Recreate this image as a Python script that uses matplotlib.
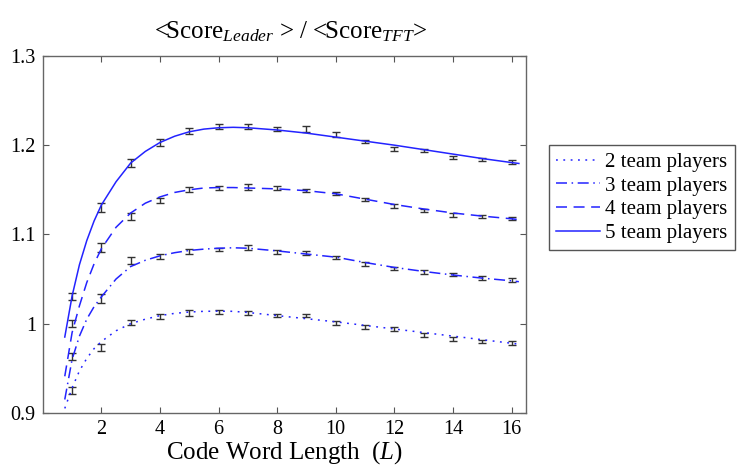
import matplotlib
matplotlib.use("Agg")
import matplotlib.pyplot as plt

# measured points (code word length L = 1..16) with error bars
L_points = [1, 2, 3, 4, 5, 6, 7, 8, 9, 10, 11, 12, 13, 14, 15, 16]

mean_2 = [0.925, 0.973, 1.001, 1.008, 1.012, 1.013, 1.012, 1.009, 1.009, 1.001,
          0.996, 0.994, 0.987, 0.983, 0.980, 0.978]
mean_3 = [0.963, 1.028, 1.071, 1.075, 1.081, 1.083, 1.085, 1.080, 1.079, 1.074,
          1.067, 1.062, 1.058, 1.055, 1.051, 1.049]
mean_4 = [1.000, 1.085, 1.120, 1.138, 1.150, 1.152, 1.153, 1.152, 1.149, 1.146,
          1.139, 1.132, 1.127, 1.122, 1.120, 1.118]
mean_5 = [1.030, 1.130, 1.180, 1.203, 1.216, 1.221, 1.221, 1.218, 1.218, 1.212,
          1.204, 1.196, 1.194, 1.186, 1.184, 1.181]

err_2 = [0.004, 0.004, 0.003, 0.003, 0.003, 0.002, 0.002, 0.002, 0.002, 0.002,
         0.002, 0.002, 0.002, 0.002, 0.002, 0.002]
err_3 = [0.004, 0.005, 0.004, 0.003, 0.003, 0.002, 0.003, 0.002, 0.002, 0.002,
         0.002, 0.002, 0.002, 0.002, 0.002, 0.002]
err_4 = [0.004, 0.005, 0.004, 0.003, 0.003, 0.002, 0.003, 0.002, 0.002, 0.002,
         0.002, 0.002, 0.002, 0.002, 0.002, 0.002]
err_5 = [0.004, 0.005, 0.004, 0.004, 0.003, 0.003, 0.003, 0.002, 0.003, 0.003,
         0.002, 0.002, 0.002, 0.002, 0.002, 0.002]

# fitted curves
L_curve = [0.75, 1.0, 1.25, 1.5, 1.75, 2.0, 2.5, 3.0, 3.5, 4.0, 4.5, 5.0, 5.5,
           6.0, 6.5, 7, 8, 9, 10, 11, 12, 13, 14, 15, 16, 16.25]

fit_2 = [0.905, 0.928, 0.947, 0.961, 0.972, 0.980, 0.992, 1.000, 1.005, 1.009,
         1.0115, 1.013, 1.0138, 1.0140, 1.0138, 1.0125, 1.009, 1.0055, 1.002,
         0.998, 0.994, 0.990, 0.986, 0.982, 0.978, 0.977]
fit_3 = [0.915, 0.960, 0.986, 1.005, 1.019, 1.030, 1.050, 1.064, 1.071, 1.076,
         1.0795, 1.082, 1.0835, 1.0845, 1.085, 1.0845, 1.0815, 1.078, 1.0745,
         1.0685, 1.063, 1.0585, 1.0545, 1.051, 1.048, 1.047]
fit_4 = [0.941, 0.990, 1.020, 1.046, 1.067, 1.084, 1.108, 1.124, 1.135, 1.142,
         1.147, 1.150, 1.152, 1.1525, 1.1525, 1.152, 1.151, 1.149, 1.1455,
         1.1395, 1.1335, 1.1285, 1.124, 1.1205, 1.1175, 1.1165]
fit_5 = [0.985, 1.031, 1.066, 1.093, 1.115, 1.133, 1.159, 1.180, 1.193, 1.203,
         1.210, 1.215, 1.218, 1.2195, 1.220, 1.2195, 1.217, 1.2135, 1.209,
         1.2045, 1.200, 1.195, 1.190, 1.185, 1.1805, 1.1795]

labels = ["2 team players", "3 team players", "4 team players", "5 team players"]


def main():
    plt.rcParams["font.family"] = "Liberation Serif"
    plt.rcParams["mathtext.fontset"] = "custom"
    plt.rcParams["mathtext.rm"] = "Liberation Serif"
    plt.rcParams["mathtext.it"] = "Liberation Serif:italic"

    fig = plt.figure(figsize=(7.38, 4.66), dpi=100)
    ax = fig.add_axes([0.058, 0.114, 0.655, 0.766])

    styles = [(0, (1.2, 3.6)), (0, (7.2, 3.0, 1.0, 3.0)), (0, (7.2, 4.3)), "-"]
    fits = [fit_2, fit_3, fit_4, fit_5]
    means = [mean_2, mean_3, mean_4, mean_5]
    errs = [err_2, err_3, err_4, err_5]

    for m, e in zip(means, errs):
        ax.errorbar(L_points, m, yerr=e, fmt="none", ecolor="#333333",
                    elinewidth=1.0, capsize=2.7, capthick=1.0, zorder=2)

    handles = []
    for f, ls, lab in zip(fits, styles, labels):
        h, = ax.plot(L_curve, f, color="#2323ff", linestyle=ls, linewidth=1.1,
                     label=lab, zorder=3)
        handles.append(h)

    ax.set_xlim(0, 16.5)
    ax.set_ylim(0.9, 1.3)
    ax.set_xticks([2, 4, 6, 8, 10, 12, 14, 16])
    ax.set_yticks([0.9, 1.0, 1.1, 1.2, 1.3])
    ax.set_yticklabels(["0.9", "1", "1.1", "1.2", "1.3"])
    ax.tick_params(direction="in", top=True, right=True, length=4,
                   width=0.8, color="#555555", labelsize=14.5, pad=5)
    for s in ax.spines.values():
        s.set_color("#666666")
        s.set_linewidth(1.0)

    ax.set_xlabel("Code Word Length  $\\mathit{(L)}$", fontsize=18, labelpad=0)
    fig.text(0.394, 0.918, "<Score$_{Leader}$ > / <Score$_{TFT}$>",
             fontsize=18, ha="center", va="baseline")

    leg = fig.legend(handles=handles, loc="upper left",
                     bbox_to_anchor=(549 / 738, 1 - 145 / 466),
                     fontsize=15, handlelength=2.1, handletextpad=0.25,
                     labelspacing=0.2, borderpad=0.35, fancybox=False,
                     framealpha=1, borderaxespad=0)
    leg.get_frame().set_edgecolor("#555555")
    leg.get_frame().set_linewidth(1.0)

    fig.savefig("out.png", dpi=100)
    plt.close(fig)


if __name__ == "__main__":
    main()
